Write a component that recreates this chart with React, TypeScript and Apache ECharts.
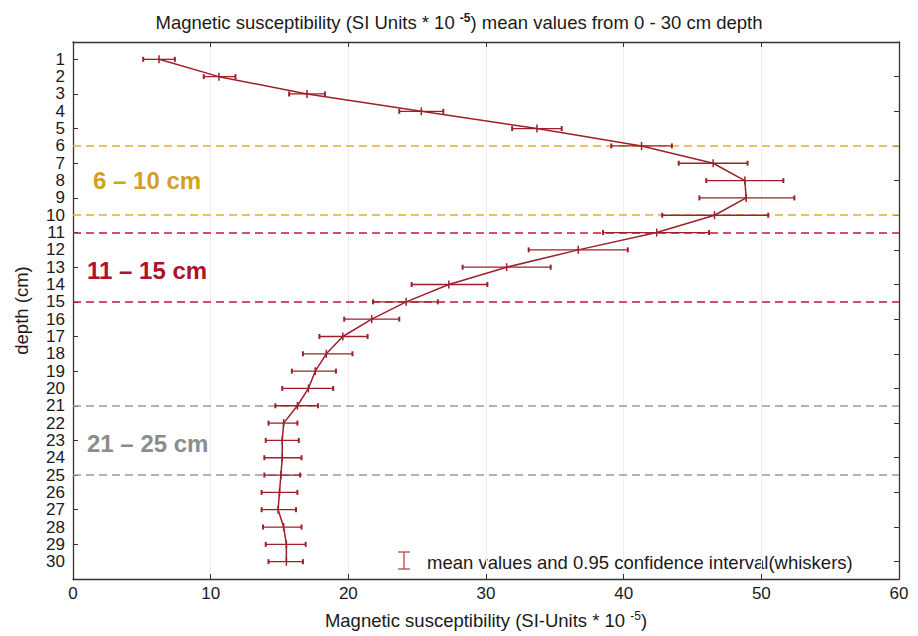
import React, { useEffect, useRef } from "react";
import * as echarts from "echarts";

// depth (cm)
const depths = [1, 2, 3, 4, 5, 6, 7, 8, 9, 10, 11, 12, 13, 14, 15, 16, 17, 18, 19, 20, 21, 22, 23, 24, 25, 26, 27, 28, 29, 30];
// mean magnetic susceptibility (SI units * 10^-5)
const means = [6.25, 10.6, 17.0, 25.3, 33.7, 41.3, 46.5, 48.8, 48.9, 46.6, 42.4, 36.7, 31.5, 27.3, 24.2, 21.7, 19.6, 18.4, 17.6, 17.1, 16.3, 15.3, 15.2, 15.2, 15.1, 15.0, 14.9, 15.3, 15.5, 15.5];
// 0.95 confidence interval bounds
const lows = [5.1, 9.5, 15.7, 23.7, 31.9, 39.1, 44.0, 46.0, 45.5, 42.8, 38.5, 33.1, 28.3, 24.6, 21.8, 19.7, 17.9, 16.7, 15.9, 15.2, 14.7, 14.2, 14.0, 13.9, 13.9, 13.7, 13.7, 13.8, 14.0, 14.2];
const highs = [7.4, 11.8, 18.3, 26.9, 35.5, 43.5, 49.0, 51.6, 52.4, 50.5, 46.2, 40.3, 34.7, 30.1, 26.5, 23.7, 21.4, 20.3, 19.1, 18.9, 17.8, 16.3, 16.4, 16.6, 16.5, 16.3, 16.2, 16.6, 16.9, 16.7];
// y axis categories (0 and 31 are padding rows without label)
const yCategories = ["0", "1", "2", "3", "4", "5", "6", "7", "8", "9", "10", "11", "12", "13", "14", "15", "16", "17", "18", "19", "20", "21", "22", "23", "24", "25", "26", "27", "28", "29", "30", "31"];
// highlighted depth bands
const bandNames = ["6 – 10 cm", "11 – 15 cm", "21 – 25 cm"];
const bandFrom = [6, 11, 21];
const bandTo = [10, 15, 25];
const bandLineColors = ["#E2B030", "#C4173A", "#9A9A9A"];
const bandTextColors = ["#D4A024", "#B0102E", "#8C8C8C"];

const FONT = "'Liberation Sans', Arial, sans-serif";
const LINE_COLOR = "#9E1F2A";
const TXT = "#1a1a1a";

export default function App() {
  const ref = useRef<HTMLDivElement>(null);

  useEffect(() => {
    if (!ref.current) return;
    const chart = echarts.init(ref.current, undefined, { renderer: "svg" });

    const markLineData: any[] = [];
    bandFrom.forEach((f, i) => {
      markLineData.push({ yAxis: f, lineStyle: { color: bandLineColors[i] } });
      markLineData.push({ yAxis: bandTo[i], lineStyle: { color: bandLineColors[i] } });
    });

    const bandTextPos = [
      { x: 93, y: 180 },
      { x: 87, y: 270 },
      { x: 87, y: 443 },
    ];

    const option: any = {
      animation: false,
      backgroundColor: "#ffffff",
      textStyle: { fontFamily: FONT },
      title: {
        left: "center",
        top: 7,
        text: "{a|Magnetic susceptibility (SI Units * 10 }{s|-5}{a|) mean values from 0 - 30 cm depth}",
        textStyle: {
          rich: {
            a: { fontFamily: FONT, fontSize: 18.5, color: TXT, fontWeight: "normal" },
            s: { fontFamily: FONT, fontSize: 12, color: TXT, verticalAlign: "top", padding: [0, 0, 9, 0] },
          },
        },
      },
      grid: { left: 73, right: 19, top: 42, bottom: 57, containLabel: false },
      xAxis: [
        {
          type: "value",
          position: "bottom",
          min: 0,
          max: 60,
          interval: 10,
          name: "{a|Magnetic susceptibility (SI-Units * 10 }{s|-5}{a|)}",
          nameLocation: "middle",
          nameGap: 31,
          nameTextStyle: {
            rich: {
              a: { fontFamily: FONT, fontSize: 18.5, color: TXT },
              s: { fontFamily: FONT, fontSize: 12, color: TXT, verticalAlign: "top", padding: [0, 0, 9, 0] },
            },
          },
          axisLine: { show: true, onZero: false, lineStyle: { color: "#333", width: 1.3 } },
          axisTick: { show: true, inside: true, length: 5, lineStyle: { color: "#333" } },
          axisLabel: { fontSize: 17, color: TXT, margin: 6, fontFamily: FONT },
          splitLine: { show: true, lineStyle: { color: "#eeeeee", width: 1 } },
        },
        {
          type: "value",
          position: "top",
          min: 0,
          max: 60,
          interval: 10,
          axisLine: { show: true, onZero: false, lineStyle: { color: "#333", width: 1.3 } },
          axisTick: { show: true, inside: true, length: 5, lineStyle: { color: "#333" } },
          axisLabel: { show: false },
          splitLine: { show: false },
        },
      ],
      yAxis: [
        {
          type: "category",
          data: yCategories,
          inverse: true,
          boundaryGap: false,
          position: "left",
          name: "depth (cm)",
          nameLocation: "middle",
          nameGap: 42,
          nameRotate: 90,
          nameTextStyle: { fontSize: 18.5, color: TXT, fontFamily: FONT },
          axisLine: { show: true, onZero: false, lineStyle: { color: "#333", width: 1.3 } },
          axisTick: {
            show: true,
            inside: true,
            length: 5,
            interval: (index: number) => index % 2 === 1 && index < 31,
            lineStyle: { color: "#333" },
          },
          axisLabel: {
            interval: 0,
            fontSize: 17,
            color: TXT,
            margin: 8,
            fontFamily: FONT,
            formatter: (v: string) => (v === "0" || v === "31" ? "" : v),
          },
          splitLine: { show: false },
        },
        {
          type: "category",
          data: yCategories,
          inverse: true,
          boundaryGap: false,
          position: "right",
          axisLine: { show: true, onZero: false, lineStyle: { color: "#333", width: 1.3 } },
          axisTick: {
            show: true,
            inside: true,
            length: 5,
            interval: (index: number) => index % 2 === 0 && index > 0 && index < 31,
            lineStyle: { color: "#333" },
          },
          axisLabel: { show: false },
          splitLine: { show: false },
        },
      ],
      series: [
        {
          type: "line",
          xAxisIndex: 0,
          yAxisIndex: 0,
          data: depths.map((d, i) => [means[i], d]),
          symbol: "none",
          lineStyle: { color: LINE_COLOR, width: 1.5 },
          z: 3,
          markLine: {
            silent: true,
            symbol: "none",
            label: { show: false },
            lineStyle: { type: [8, 5], width: 1.6 },
            data: markLineData,
            z: 2,
          },
        },
        {
          type: "custom",
          xAxisIndex: 0,
          yAxisIndex: 0,
          data: depths.map((d, i) => [lows[i], highs[i], d, means[i]]),
          encode: { x: [0, 1, 3], y: 2 },
          z: 4,
          renderItem: (params: any, api: any) => {
            const y = api.value(2);
            const lo = api.coord([api.value(0), y]);
            const hi = api.coord([api.value(1), y]);
            const mn = api.coord([api.value(3), y]);
            const style = { stroke: LINE_COLOR, lineWidth: 1.3 };
            return {
              type: "group",
              children: [
                { type: "line", shape: { x1: lo[0], y1: lo[1], x2: hi[0], y2: hi[1] }, style },
                { type: "line", shape: { x1: lo[0], y1: lo[1] - 2.5, x2: lo[0], y2: lo[1] + 2.5 }, style: { stroke: LINE_COLOR, lineWidth: 2 } },
                { type: "line", shape: { x1: hi[0], y1: hi[1] - 2.5, x2: hi[0], y2: hi[1] + 2.5 }, style: { stroke: LINE_COLOR, lineWidth: 2 } },
                { type: "line", shape: { x1: mn[0], y1: mn[1] - 4, x2: mn[0], y2: mn[1] + 4 }, style: { stroke: LINE_COLOR, lineWidth: 1.5 } },
              ],
            };
          },
        },
      ],
      graphic: [
        ...bandNames.map((name, i) => ({
          type: "text",
          x: bandTextPos[i].x,
          y: bandTextPos[i].y,
          style: {
            text: name,
            fill: bandTextColors[i],
            font: `bold 24px ${FONT}`,
            verticalAlign: "middle",
            align: "left",
          },
          z: 10,
        })),
        {
          type: "group",
          z: 10,
          children: [
            { type: "line", shape: { x1: 404, y1: 552, x2: 404, y2: 569 }, style: { stroke: "#C2404E", lineWidth: 1.3 } },
            { type: "line", shape: { x1: 398, y1: 552, x2: 410, y2: 552 }, style: { stroke: "#C2404E", lineWidth: 1.3 } },
            { type: "line", shape: { x1: 398, y1: 569, x2: 410, y2: 569 }, style: { stroke: "#C2404E", lineWidth: 1.3 } },
            {
              type: "text",
              x: 427,
              y: 562,
              style: {
                text: "mean values and 0.95 confidence interval(whiskers)",
                fill: TXT,
                font: `18.5px ${FONT}`,
                verticalAlign: "middle",
                align: "left",
              },
            },
          ],
        },
      ],
    };

    chart.setOption(option);
    return () => chart.dispose();
  }, []);

  return (
    <div
      ref={ref}
      style={{ position: "fixed", left: 0, top: 0, width: 918, height: 636, background: "#fff" }}
    />
  );
}
